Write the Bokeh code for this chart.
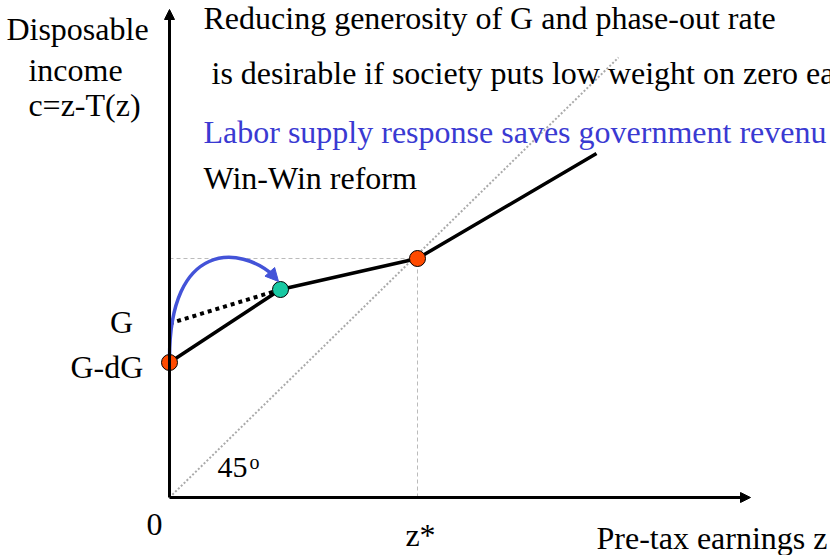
from bokeh.plotting import figure
from bokeh.models import Range1d, Arrow, NormalHead
from bokeh.core.properties import value
from bokeh.embed import file_html
from bokeh.resources import INLINE

# ---- data (diagram units: origin at the axes' corner) ----
budget_x = [0, 111, 248, 427]          # new budget line (after reform)
budget_y = [135, 208, 239, 344]
old_x = [0, 111]                        # old segment from G
old_y = [174, 208]
diag_x = [0, 449]                       # 45 degree line
diag_y = [0, 440]
zstar = 248
c_zstar = 239
G = 174
G_dG = 135
kink_x = [0, 248]                       # orange points
kink_y = [135, 239]
teal_x = [111]
teal_y = [208]
# blue response curve (start, two controls, end)
curve = dict(x0=[0], y0=[139], cx0=[0], cy0=[257], cx1=[71], cy1=[252], x1=[104], y1=[222])
arrow_tip = (109, 216)

title_lines = [
    "Reducing generosity of G and phase-out rate",
    "is desirable if society puts low weight on zero ea",
    "Labor supply response saves government revenu",
    "Win-Win reform",
]
ylab_lines = ["Disposable", "income", "c=z-T(z)"]

FONT = value("Liberation Serif")
FS = "32px"
DY = 11  # baseline correction
BLUE_TXT = "#3A3AD2"
BLUE = "#4353D8"

p = figure(width=830, height=555, output_backend="svg", toolbar_location=None,
           x_range=Range1d(-169, 661), y_range=Range1d(-58, 497), min_border=0)
p.axis.visible = False
p.grid.visible = False
p.outline_line_color = None
p.background_fill_color = "white"

# 45 degree line
p.line(diag_x, diag_y, line_color="#AAAAAA", line_width=2, line_dash="2 2")
# guides to z*
p.line([0, zstar], [c_zstar, c_zstar], line_color="#BBBBBB", line_width=1, line_dash="4 3")
p.line([zstar, zstar], [0, c_zstar], line_color="#BBBBBB", line_width=1, line_dash="4 3")

# axes with arrowheads
p.add_layout(Arrow(end=NormalHead(size=10, fill_color="black", line_color="black"),
                   x_start=0, y_start=0, x_end=581, y_end=0, line_width=3, line_color="black"))
p.add_layout(Arrow(end=NormalHead(size=10, fill_color="black", line_color="black"),
                   x_start=0, y_start=0, x_end=0, y_end=488, line_width=3, line_color="black"))

# budget lines
p.line(old_x, old_y, line_color="black", line_width=4, line_dash="4 4")
p.line(budget_x, budget_y, line_color="black", line_width=3.5)

# blue response curve
p.bezier(line_color=BLUE, line_width=3.5, **curve)
p.add_layout(Arrow(end=NormalHead(size=13, fill_color=BLUE, line_color=BLUE),
                   x_start=curve["x1"][0] - 4, y_start=curve["y1"][0] + 4,
                   x_end=arrow_tip[0], y_end=arrow_tip[1], line_width=3, line_color=BLUE))

# points
p.scatter(kink_x, kink_y, size=16, fill_color="#FF4A00", line_color="black", line_width=1)
p.scatter(teal_x, teal_y, size=16, fill_color="#18C9A3", line_color="black", line_width=1)

def txt(x, y, s, align="left", color="black", size=FS):
    p.text([x], [y + DY], text=[s], text_font=FONT, text_font_size=size,
           text_align=align, text_baseline="alphabetic", text_color=color)

# title texts
txt(34, 469, title_lines[0])
txt(42, 414, title_lines[1])
txt(34, 355, title_lines[2], color=BLUE_TXT)
txt(34, 309, title_lines[3])

# y label
for xx, yy, s in zip([-92, -94, -85], [458, 417, 382], ylab_lines):
    txt(xx, yy, s, align="center")

# G labels
txt(-48, 165, "G", align="center")
txt(-99, 120, "G-dG")

# x labels
txt(-15, -38, "0", align="center")
txt(zstar + 3, -48, "z*", align="center")
txt(427, -51, "Pre-tax earnings z")

# 45 degree label
txt(48, 19, "45", size="30px")
txt(80, 25, "o", size="20px")

open("out.html", "w").write(file_html(p, INLINE))
